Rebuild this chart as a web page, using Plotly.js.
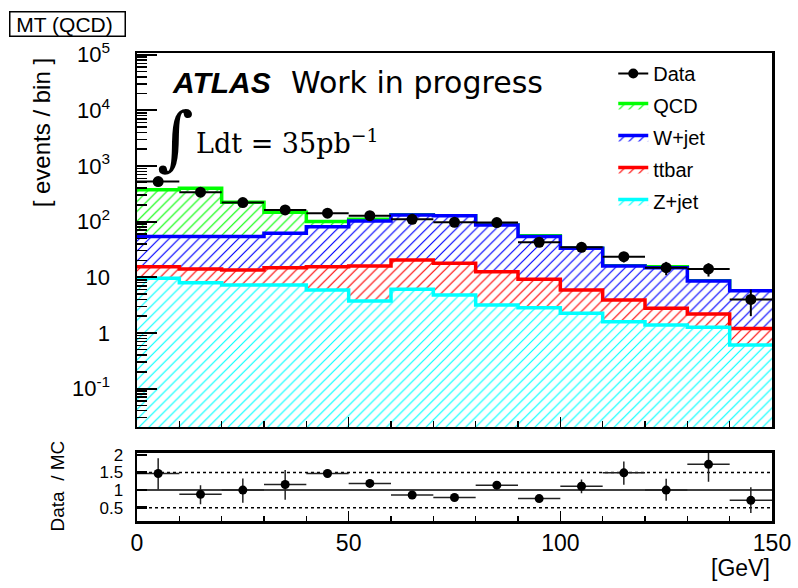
<!DOCTYPE html>
<html>
<head>
<meta charset="utf-8">
<script src="https://cdn.plot.ly/plotly-3.0.1.min.js"></script>
<style>html,body{margin:0;padding:0;background:#fff;}#chart{width:798px;height:588px;}</style>
</head>
<body>
<div id="chart"></div>
<script>
// ---- data (15 bins of 10 GeV) ----
const binEdges = [0,10,20,30,40,50,60,70,80,90,100,110,120,130,140,150];
const qcd   = [318, 345, 169, 86, 19, 7, 0.3, 0.2, 0.2, 2, 0.1, 0.1, 0.6, 0.1, 0.05];
const wjet  = [38.7, 40.1, 40.7, 46.8, 65.8, 87.0, 111.5, 110.0, 74.6, 44.6, 27.3, 12.1, 12.1, 6.4, 4.5];
const ttbar = [5.9, 6.1, 6.2, 7.6, 9.6, 12.25, 14.4, 13.1, 9.44, 6.36, 3.65, 2.31, 1.38, 0.93, 0.6];
const zjet  = [9.6, 8.0, 7.3, 7.3, 5.9, 3.75, 6.1, 4.8, 3.16, 2.84, 2.25, 1.59, 1.39, 1.26, 0.605];
const dataVals = [524, 338, 220, 162, 142, 128, 110, 97.5, 96, 42.6, 34.6, 23.5, 14.9, 14.1, 4.0];
const dataErr  = [23, 18, 15, 13, 12, 11, 10.5, 10, 10, 6.5, 6, 5, 4, 3.8, 2];
const ratio     = [1.47, 0.88, 1.0, 1.16, 1.47, 1.19, 0.86, 0.79, 1.14, 0.76, 1.11, 1.49, 1.0, 1.73, 0.71];
const ratioUp   = [0.43, 0.26, 0.33, 0.41, 0.11, 0.09, 0.09, 0.09, 0.10, 0.08, 0.19, 0.32, 0.32, 0.32, 0.37];
const ratioDown = [0.45, 0.28, 0.36, 0.43, 0.11, 0.10, 0.10, 0.09, 0.09, 0.07, 0.20, 0.34, 0.30, 0.49, 0.36];
const yTickVals = [0.1, 1, 10, 100, 1000, 10000, 100000];
const yTickText = ['10<sup>-1</sup>', '1', '10', '10<sup>2</sup>', '10<sup>3</sup>', '10<sup>4</sup>', '10<sup>5</sup>'];
const ratioTickVals = [0.5, 1, 1.5, 2];
const ratioTickText = ['0.5', '1', '1.5', '2'];
const xTickVals = [0, 50, 100, 150];

// ---- derived ----
const nb = binEdges.length - 1;
const centers = [], halfW = [];
for (let i = 0; i < nb; i++) { centers.push((binEdges[i] + binEdges[i+1]) / 2); halfW.push((binEdges[i+1] - binEdges[i]) / 2); }
const cumZ = zjet.slice();
const cumT = cumZ.map((v, i) => v + ttbar[i]);
const cumW = cumT.map((v, i) => v + wjet[i]);
const cumQ = cumW.map((v, i) => v + qcd[i]);
const stepY = arr => arr.concat([arr[arr.length - 1]]);

const SANS = 'Liberation Sans, Arial, sans-serif';

function stackTrace(name, vals, color, rank) {
  return {
    type: 'scatter', name: name, x: binEdges, y: stepY(vals),
    mode: 'lines', line: {shape: 'hv', color: color, width: 3.5},
    fill: 'tozeroy', fillcolor: 'white',
    fillpattern: {shape: '/', fgcolor: color, bgcolor: 'white', size: 7, solidity: 0.17},
    legendrank: rank, legendgroup: name, hoverinfo: 'skip', xaxis: 'x', yaxis: 'y'
  };
}

const traces = [
  stackTrace('QCD', cumQ, '#00ff00', 2),
  stackTrace('W+jet', cumW, '#0000ff', 3),
  stackTrace('ttbar', cumT, '#ff0000', 4),
  stackTrace('Z+jet', cumZ, '#00ffff', 5),
  {
    type: 'scatter', name: 'Data', x: centers, y: dataVals, mode: 'markers',
    marker: {color: 'black', size: 11},
    error_y: {type: 'data', array: dataErr, color: 'black', thickness: 2, width: 0},
    error_x: {type: 'data', array: halfW, color: 'black', thickness: 2, width: 0},
    showlegend: false, xaxis: 'x', yaxis: 'y'
  },
  {
    type: 'scatter', name: 'Data', x: [null], y: [null], mode: 'lines+markers',
    marker: {color: 'black', size: 10}, line: {color: 'black', width: 2},
    legendrank: 1, legendgroup: 'Data', xaxis: 'x', yaxis: 'y'
  },
  {
    type: 'scatter', name: 'Data / MC', x: centers, y: ratio, mode: 'markers',
    marker: {color: 'black', size: 9},
    error_y: {type: 'data', symmetric: false, array: ratioUp, arrayminus: ratioDown, color: '#222', thickness: 1.5, width: 0},
    error_x: {type: 'data', array: halfW, color: '#222', thickness: 1.5, width: 0},
    showlegend: false, xaxis: 'x2', yaxis: 'y2'
  }
];

// minor tick positions on the log axis (2..9 per decade)
const minorVals = [];
for (let e = -2; e <= 5; e++) for (let m = 2; m <= 9; m++) minorVals.push(m * Math.pow(10, e));

const layout = {
  width: 798, height: 588,
  margin: {l: 137, r: 26, t: 53, b: 67},
  paper_bgcolor: 'white', plot_bgcolor: 'white',
  font: {family: SANS, color: 'black'},
  showlegend: true,
  legend: {
    x: 0.75, xanchor: 'left', y: 0.998, yanchor: 'top', xref: 'paper', yref: 'paper',
    font: {family: SANS, size: 20, color: 'black'}, bgcolor: 'rgba(0,0,0,0)',
    borderwidth: 0, traceorder: 'grouped', tracegroupgap: 3, itemwidth: 30
  },
  xaxis: {
    domain: [0, 1], anchor: 'y', range: [0, 150], showticklabels: false,
    tickvals: xTickVals, ticks: 'inside', ticklen: 10, tickwidth: 1.5, tickcolor: 'black',
    minor: {dtick: 10, tick0: 0, ticks: 'inside', ticklen: 6, tickwidth: 1.5, tickcolor: 'black', showgrid: false},
    showline: true, linewidth: 2, linecolor: 'black', mirror: true,
    showgrid: false, zeroline: false
  },
  yaxis: {
    domain: [0.2009, 1], anchor: 'x', type: 'log', range: [-1.69, 5.03],
    tickvals: yTickVals, ticktext: yTickText, ticks: 'inside', ticklen: 20, tickwidth: 2, tickcolor: 'black',
    minor: {tickmode: 'array', tickvals: minorVals, ticks: 'inside', ticklen: 10, tickwidth: 1.5, tickcolor: 'black', showgrid: false},
    tickfont: {family: SANS, size: 22, color: 'black'}, ticklabelstandoff: 20,
    showline: true, linewidth: 2.5, linecolor: 'black', mirror: true,
    showgrid: false, zeroline: false
  },
  xaxis2: {
    domain: [0, 1], anchor: 'y2', range: [0, 150], matches: 'x',
    tickvals: xTickVals, ticks: 'inside', ticklen: 10, tickwidth: 1.5, tickcolor: 'black',
    minor: {dtick: 10, tick0: 0, ticks: 'inside', ticklen: 5, tickwidth: 1.5, tickcolor: 'black', showgrid: false},
    tickfont: {family: SANS, size: 23, color: 'black'},
    showline: true, linewidth: 2.5, linecolor: 'black', mirror: true,
    showgrid: false, zeroline: false
  },
  yaxis2: {
    domain: [0, 0.1459], anchor: 'x2', range: [0.124, 2.06],
    tickvals: ratioTickVals, ticktext: ratioTickText, ticks: 'inside', ticklen: 10, tickwidth: 2.5, tickcolor: 'black',
    tickfont: {family: SANS, size: 17, color: 'black'}, ticklabelstandoff: 8,
    showline: true, linewidth: 2.5, linecolor: 'black', mirror: true,
    showgrid: false, zeroline: false
  },
  shapes: [
    {type: 'line', xref: 'x2 domain', yref: 'y2', x0: 0, x1: 1, y0: 1.5, y1: 1.5, line: {color: 'black', width: 1.5, dash: 'dot'}, layer: 'below'},
    {type: 'line', xref: 'x2 domain', yref: 'y2', x0: 0, x1: 1, y0: 1, y1: 1, line: {color: 'black', width: 1.5}, layer: 'below'},
    {type: 'line', xref: 'x2 domain', yref: 'y2', x0: 0, x1: 1, y0: 0.5, y1: 0.5, line: {color: 'black', width: 1.5, dash: 'dot'}, layer: 'below'}
  ],
  annotations: [
    {text: '&nbsp;MT (QCD)&nbsp;&nbsp;', xref: 'paper', yref: 'paper', x: -0.2016, y: 1.062, xanchor: 'left', yanchor: 'middle',
     showarrow: false, font: {family: SANS, size: 21}, bordercolor: 'black', borderwidth: 1.5, borderpad: 0, bgcolor: 'white'},
    {text: '[ events / bin ]', xref: 'paper', yref: 'paper', x: -0.15, y: 0.83, textangle: -90,
     showarrow: false, font: {family: SANS, size: 24}, xanchor: 'center', yanchor: 'middle'},
    {text: 'Data  / MC', xref: 'paper', yref: 'paper', x: -0.125, y: 0.075, textangle: -90,
     showarrow: false, font: {family: SANS, size: 19}, xanchor: 'center', yanchor: 'middle'},
    {text: '[GeV]', xref: 'paper', yref: 'paper', x: 1.0, y: -0.1, xanchor: 'right', yanchor: 'middle',
     showarrow: false, font: {family: SANS, size: 23}},
    {text: 'ATLAS', xref: 'paper', yref: 'paper', x: 0.052, y: 0.937, xanchor: 'left', yanchor: 'middle',
     showarrow: false, font: {family: SANS, size: 30, weight: 'bold', style: 'italic'}},
    {text: 'Work in progress', xref: 'paper', yref: 'paper', x: 0.24, y: 0.937, xanchor: 'left', yanchor: 'middle',
     showarrow: false, font: {family: 'DejaVu Sans, sans-serif', size: 30}},
    {text: '∫', xref: 'paper', yref: 'paper', x: 0.028, y: 0.819, xanchor: 'left', yanchor: 'middle',
     showarrow: false, font: {family: 'DejaVu Serif, serif', size: 70}},
    {text: 'Ldt = 35pb<sup>−1</sup>', xref: 'paper', yref: 'paper', x: 0.089, y: 0.81, xanchor: 'left', yanchor: 'middle',
     showarrow: false, font: {family: 'DejaVu Serif, serif', size: 27}}
  ]
};

Plotly.newPlot('chart', traces, layout, {displayModeBar: false, staticPlot: true});
</script>
</body>
</html>
